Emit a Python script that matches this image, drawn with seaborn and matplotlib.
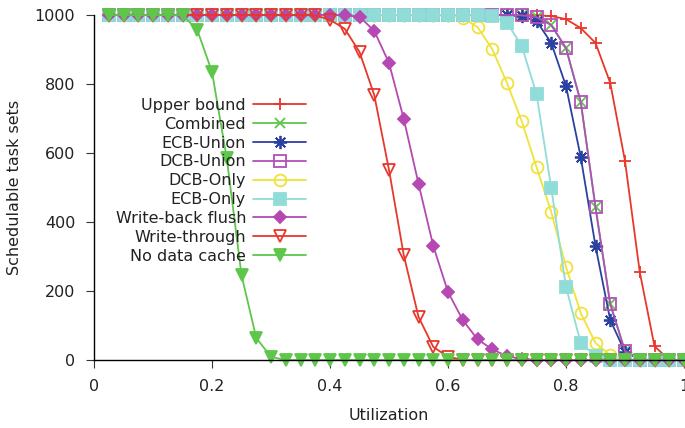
import matplotlib
matplotlib.use("Agg")
import matplotlib.pyplot as plt
import seaborn as sns

utilization = [0.025, 0.05, 0.075, 0.1, 0.125, 0.15, 0.175, 0.2, 0.225, 0.25,
               0.275, 0.3, 0.325, 0.35, 0.375, 0.4, 0.425, 0.45, 0.475, 0.5,
               0.525, 0.55, 0.575, 0.6, 0.625, 0.65, 0.675, 0.7, 0.725, 0.75,
               0.775, 0.8, 0.825, 0.85, 0.875, 0.9, 0.925, 0.95, 0.975, 1.0]

upper_bound = [1000]*29 + [999, 997, 988, 962, 919, 803, 577, 255, 40, 0, 0]
combined = [1000]*28 + [999, 994, 971, 904, 748, 443, 162, 26, 1, 0, 0, 0]
ecb_union = [1000]*27 + [999, 996, 983, 919, 794, 588, 330, 116, 23, 1, 0, 0, 0]
dcb_union = [1000]*28 + [999, 994, 971, 904, 748, 443, 162, 26, 1, 0, 0, 0]
dcb_only = [1000]*24 + [991, 965, 901, 803, 692, 559, 429, 270, 136, 49, 14, 2, 0, 0, 0, 0]
ecb_only = [1000]*26 + [996, 978, 910, 771, 498, 212, 49, 12, 1, 0, 0, 0, 0, 0]
write_back = [1000]*16 + [999, 995, 954, 861, 699, 511, 331, 197, 116, 60, 31, 11, 3,
                          0, 0, 0, 0, 0, 0, 0, 0, 0, 0, 0]
write_through = [1000]*14 + [999, 986, 960, 893, 768, 551, 304, 125, 38, 9, 1,
                             0, 0, 0, 0, 0, 0, 0, 0, 0, 0, 0, 0, 0, 0, 0]
no_cache = [1000]*6 + [957, 835, 585, 246, 64, 9] + [0]*28

series = [
    ("Upper bound", upper_bound, "#e8372b", "+", True, 9),
    ("Combined", combined, "#5ec64a", "x", True, 7.5),
    ("ECB-Union", ecb_union, "#2b41a0", (8, 2, 0), True, 9.5),
    ("DCB-Union", dcb_union, "#b150b9", "s", False, 8),
    ("DCB-Only", dcb_only, "#f0e23a", "o", False, 8.5),
    ("ECB-Only", ecb_only, "#8fdcd8", "s", True, 8),
    ("Write-back flush", write_back, "#b548b2", "D", True, 6.5),
    ("Write-through", write_through, "#e8372b", "v", False, 8),
    ("No data cache", no_cache, "#5ec64a", "v", True, 8.5),
]

sns.set_style("white")
plt.rcParams['font.family'] = ['DejaVu Sans']

fig = plt.figure(figsize=(6.85, 4.28), dpi=100)
ax = fig.add_axes([94/685, 1-360/428, 590/685, 345/428])

for name, vals, color, marker, filled, ms in series:
    kw = dict(marker=marker, markersize=ms, markeredgecolor=color,
              markeredgewidth=1.3, linewidth=1.3, clip_on=False)
    if marker in ("+", "x") or isinstance(marker, tuple):
        pass
    elif filled:
        kw["markerfacecolor"] = color
    else:
        kw["markerfacecolor"] = "none"
    sns.lineplot(x=utilization, y=vals, ax=ax, color=color, label=name, **kw)

FS = 11.5
ax.set_xlim(0, 1)
ax.set_ylim(0, 1000)
ax.set_xticks([0, 0.2, 0.4, 0.6, 0.8, 1])
ax.set_xticklabels(["0", "0.2", "0.4", "0.6", "0.8", "1"])
ax.set_yticks([0, 200, 400, 600, 800, 1000])
for s in ["top", "right"]:
    ax.spines[s].set_visible(False)
for s in ["left", "bottom"]:
    ax.spines[s].set_color("black")
    ax.spines[s].set_linewidth(1.0)
ax.tick_params(axis="both", direction="out", length=6, width=0.8, color="#333333",
               labelsize=FS, labelcolor="#222222", pad=7.5, bottom=True, left=True)
ax.set_xlabel("Utilization", fontsize=FS, color="#222222", labelpad=10)
ax.set_ylabel("Schedulable task sets", fontsize=FS, color="#222222", labelpad=9)

leg = ax.legend(loc="upper right", bbox_to_anchor=(306/685, 1-98/428),
                bbox_transform=fig.transFigure, frameon=False, markerfirst=False,
                fontsize=FS, handlelength=3.3, handletextpad=0.45,
                labelspacing=0.24, borderpad=0, borderaxespad=0)
for t in leg.get_texts():
    t.set_color("#222222")

fig.savefig("out.png", dpi=100)
